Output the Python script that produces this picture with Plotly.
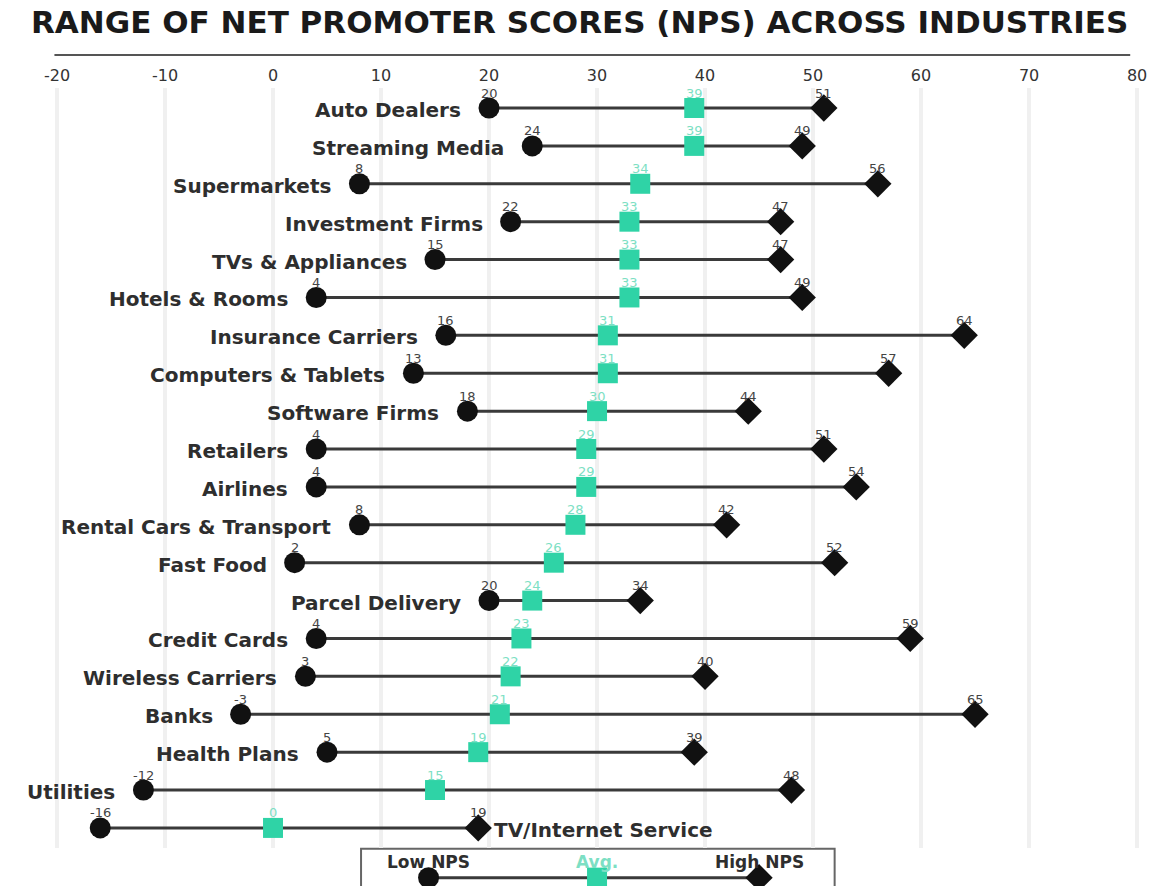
import plotly.graph_objects as go

# ---------------- data ----------------
industries = [
    "Auto Dealers", "Streaming Media", "Supermarkets", "Investment Firms",
    "TVs & Appliances", "Hotels & Rooms", "Insurance Carriers",
    "Computers & Tablets", "Software Firms", "Retailers", "Airlines",
    "Rental Cars & Transport", "Fast Food", "Parcel Delivery", "Credit Cards",
    "Wireless Carriers", "Banks", "Health Plans", "Utilities",
    "TV/Internet Service",
]
low_nps = [20, 24, 8, 22, 15, 4, 16, 13, 18, 4, 4, 8, 2, 20, 4, 3, -3, 5, -12, -16]
avg_nps = [39, 39, 34, 33, 33, 33, 31, 31, 30, 29, 29, 28, 26, 24, 23, 22, 21, 19, 15, 0]
high_nps = [51, 49, 56, 47, 47, 49, 64, 57, 44, 51, 54, 42, 52, 34, 59, 40, 65, 39, 48, 19]
tick_vals = [-20, -10, 0, 10, 20, 30, 40, 50, 60, 70, 80]
title_text = "RANGE OF NET PROMOTER SCORES (NPS) ACROSS INDUSTRIES"

# legend key sample (values on the same NPS scale)
legend_low, legend_avg, legend_high = 14.4, 30.0, 45.0
legend_labels = ["Low NPS", "Avg.", "High NPS"]

# ---------------- style ----------------
TEAL = "#2fd3a6"
TEAL_TXT = "#7ddfc4"
DARK = "#111111"
LINE = "#3a3a3a"
LABEL = "#2e2e2e"
VAL = "#444444"
FONT = "DejaVu Sans"

W, H = 1158, 886
TOP = 88
rows = list(range(len(industries)))

fig = go.Figure()

# connecting lines
lx, ly = [], []
for i, lo, hi in zip(rows, low_nps, high_nps):
    lx += [lo, hi, None]
    ly += [i, i, None]
fig.add_trace(go.Scatter(x=lx, y=ly, mode="lines",
                         line=dict(color=LINE, width=3), hoverinfo="skip",
                         showlegend=False))

fig.add_trace(go.Scatter(x=low_nps, y=rows, mode="markers",
                         marker=dict(symbol="circle", size=21, color=DARK),
                         showlegend=False))
fig.add_trace(go.Scatter(x=high_nps, y=rows, mode="markers",
                         marker=dict(symbol="diamond", size=21, color=DARK),
                         showlegend=False))
fig.add_trace(go.Scatter(x=avg_nps, y=rows, mode="markers",
                         marker=dict(symbol="square", size=20, color=TEAL),
                         showlegend=False))

annotations = []

# value labels just above each marker
for series, col in ((low_nps, VAL), (high_nps, VAL), (avg_nps, TEAL_TXT)):
    for i, v in enumerate(series):
        annotations.append(dict(x=v, y=i, xref="x", yref="y", text=str(v),
                                showarrow=False, yshift=15, borderpad=0,
                                font=dict(family=FONT, size=13, color=col)))

# category labels
last = len(industries) - 1
for i, name in enumerate(industries):
    if i == last:
        annotations.append(dict(x=high_nps[i], y=i, xref="x", yref="y",
                                text=name, showarrow=False, xanchor="left",
                                xshift=15, yshift=-2, borderpad=0,
                                font=dict(family=FONT, size=20, color=LABEL,
                                          weight="bold")))
    else:
        annotations.append(dict(x=low_nps[i], y=i, xref="x", yref="y",
                                text=name, showarrow=False, xanchor="right",
                                xshift=-27, yshift=-2, borderpad=0,
                                font=dict(family=FONT, size=20, color=LABEL,
                                          weight="bold")))

# title
annotations.append(dict(x=0.5, y=1 + (TOP - 22) / (H - TOP), xref="paper",
                        yref="paper", yanchor="middle",
                        text=title_text, showarrow=False,
                        font=dict(family=FONT, size=31, color="#1a1a1a",
                                  weight="bold")))

# legend key
fig.add_trace(go.Scatter(x=[legend_low, legend_high], y=[0.22, 0.22],
                         xaxis="x2", yaxis="y2", mode="lines",
                         line=dict(color=LINE, width=3), showlegend=False,
                         hoverinfo="skip"))
fig.add_trace(go.Scatter(x=[legend_low], y=[0.22], xaxis="x2", yaxis="y2",
                         mode="markers", marker=dict(symbol="circle", size=21,
                                                     color=DARK),
                         showlegend=False))
fig.add_trace(go.Scatter(x=[legend_high], y=[0.22], xaxis="x2", yaxis="y2",
                         mode="markers", marker=dict(symbol="diamond", size=21,
                                                     color=DARK),
                         showlegend=False))
fig.add_trace(go.Scatter(x=[legend_avg], y=[0.22], xaxis="x2", yaxis="y2",
                         mode="markers", marker=dict(symbol="square", size=20,
                                                     color=TEAL),
                         showlegend=False))
for xv, lab, col in zip([legend_low, legend_avg, legend_high], legend_labels,
                        [LABEL, TEAL_TXT, LABEL]):
    annotations.append(dict(x=xv, y=0.63, xref="x2", yref="y2", text=lab,
                            showarrow=False,
                            font=dict(family=FONT, size=17, color=col,
                                      weight="bold")))

XR = [-25.28, 81.94]
PLOT_BOTTOM = (H - 848) / (H - TOP)

fig.update_layout(
    width=W, height=H,
    margin=dict(l=0, r=0, t=TOP, b=0),
    paper_bgcolor="white", plot_bgcolor="white",
    font=dict(family=FONT),
    xaxis=dict(range=XR, side="top", tickvals=tick_vals,
               ticktext=[str(v) for v in tick_vals],
               tickfont=dict(family=FONT, size=16, color="#333333"),
               ticklabelstandoff=3,
               showgrid=True, gridcolor="#f0f0f0", gridwidth=4,
               zeroline=False, showline=False, ticks="", fixedrange=True,
               automargin=False, anchor="y"),
    yaxis=dict(range=[19.53, -0.528], domain=[PLOT_BOTTOM, 1],
               showgrid=False, zeroline=False, showticklabels=False,
               showline=False, anchor="x"),
    xaxis2=dict(range=XR, visible=False, anchor="y2"),
    yaxis2=dict(range=[0, 1], domain=[0, PLOT_BOTTOM], visible=False,
                anchor="x2"),
    annotations=annotations,
    shapes=[
        dict(type="line", xref="paper", yref="paper", x0=0.047, x1=0.976,
             y0=1 + (TOP - 55) / (H - TOP), y1=1 + (TOP - 55) / (H - TOP),
             line=dict(color="#555555", width=2)),
        dict(type="rect", xref="x2", yref="paper", x0=8.15, x1=52.0,
             y0=-0.05, y1=PLOT_BOTTOM - 0.001,
             line=dict(color="#666666", width=2),
             fillcolor="rgba(0,0,0,0)", layer="below"),
    ],
)

fig.write_html("out.html",
               config={"displayModeBar": False},
               post_script="document.body.style.margin='0';"
                           "document.body.style.overflow='hidden';")
